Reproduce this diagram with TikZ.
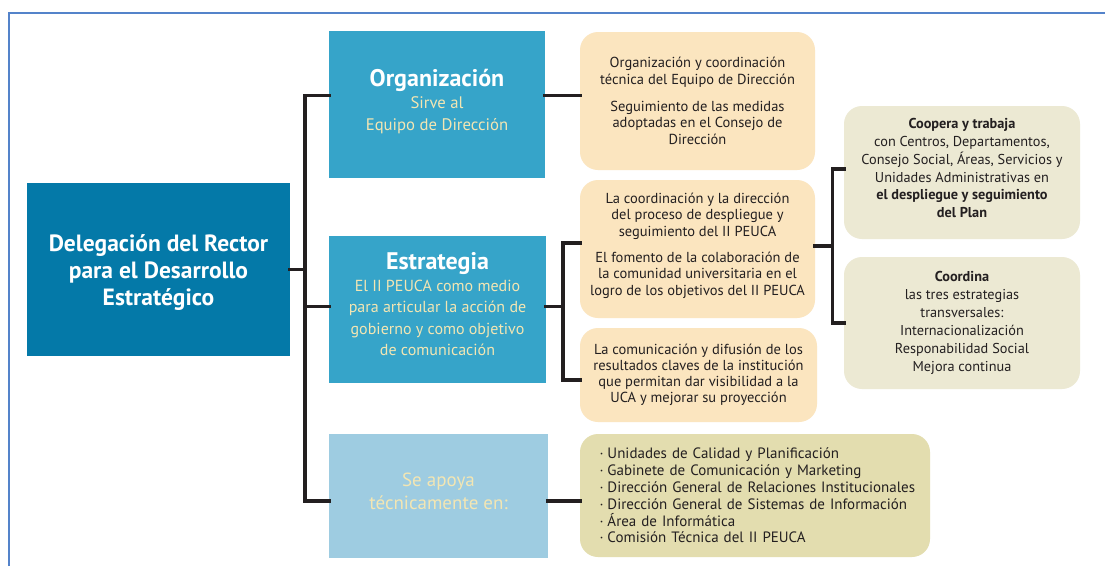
\documentclass[tikz,border=0pt]{standalone}
\usepackage{fontspec}
\setmainfont{PT Sans}
\usetikzlibrary{calc}
\definecolor{frameblue}{HTML}{5483CA}
\definecolor{deepblue}{HTML}{0479A8}
\definecolor{midblue}{HTML}{36A4C9}
\definecolor{paleblue}{HTML}{9ECCE1}
\definecolor{cream}{HTML}{F3E6B3}
\definecolor{peach}{HTML}{FBE5BF}
\definecolor{beige}{HTML}{ECE9D3}
\definecolor{khaki}{HTML}{E3DDAF}
\definecolor{ink}{HTML}{231F20}
\tikzset{
  box/.style={anchor=north west, inner sep=0pt, outer sep=0pt, align=center},
  sqbox/.style={box, rectangle},
  rbox/.style={box, rectangle, rounded corners=18pt, text=ink,
    font=\fontsize{14.5}{16.6}\selectfont},
  link/.style={draw=ink, line width=3.2pt, line join=miter, line cap=rect}
}
\newcommand{\bul}{\hspace*{18pt}\llap{·\hspace{4pt}}}
\begin{document}
\begin{tikzpicture}[x=1pt,y=-1pt]
\useasboundingbox (0,0) rectangle (1105,566);
\fill[white] (0,0) rectangle (1105,566);
\draw[frameblue, line width=1.6pt] (9,566) -- (9,13) -- (1105,13);

% main boxes
\node[sqbox, fill=deepblue, text=white, minimum width=263pt, minimum height=173pt,
  font=\fontsize{23.5}{27}\selectfont\bfseries] (del) at (27,183)
  {Delegación del Rector\\para el Desarrollo\\Estratégico\\[-29pt]};

\node[sqbox, fill=midblue, text=cream, minimum width=216pt, minimum height=147pt,
  font=\fontsize{16.7}{22}\selectfont] (org) at (329,31)
  {\textcolor{white}{\fontsize{24}{24}\selectfont\bfseries Organización}\\Sirve al\\Equipo de Dirección\\[-13pt]};

\node[sqbox, fill=midblue, text=cream, minimum width=217pt, minimum height=147pt,
  font=\fontsize{16}{21.5}\selectfont] (est) at (329,236)
  {\textcolor{white}{\fontsize{24}{24}\selectfont\bfseries Estrategia}\\El II PEUCA como medio\\para articular la acción de\\gobierno y como objetivo\\de comunicación\\[-11pt]};

\node[sqbox, fill=paleblue, text=cream, minimum width=219pt, minimum height=124pt,
  font=\fontsize{19}{23}\selectfont] (apo) at (329,434)
  {Se apoya\\técnicamente en:\\[-14pt]};

% right boxes
\node[rbox, fill=peach, minimum width=235pt, minimum height=138pt] (orgr) at (580,32)
  {Organización y coordinación\\técnica del Equipo de Dirección\\[10pt]Seguimiento de las medidas\\adoptadas en el Consejo de\\Dirección};

\node[rbox, fill=peach, minimum width=235pt, minimum height=138pt] (eone) at (580,180)
  {La coordinación y la dirección\\del proceso de despliegue y\\seguimiento del II PEUCA\\[9pt]El fomento de la colaboración de\\la comunidad universitaria en el\\logro de los objetivos del II PEUCA\\[-6.6pt]};

\node[rbox, fill=peach, minimum width=237pt, minimum height=94pt,
  font=\fontsize{14.5}{16.2}\selectfont] (etwo) at (580,328)
  {La comunicación y difusión de los\\resultados claves de la institución\\que permitan dar visibilidad a la\\UCA y mejorar su proyección};

\node[rbox, fill=khaki, minimum width=350pt, minimum height=123pt, align=left,
  text width=331pt, font=\fontsize{15}{16.8}\selectfont] (apr) at (580,434)
  {\bul Unidades de Calidad y Planificación\\
   \bul Gabinete de Comunicación y Marketing\\
   \bul Dirección General de Relaciones Institucionales\\
   \bul Dirección General de Sistemas de Información\\
   \bul Área de Informática\\
   \bul Comisión Técnica del II PEUCA};

\node[rbox, fill=beige, minimum width=236pt, minimum height=133pt,
  font=\fontsize{14.3}{17.8}\selectfont] (coop) at (844,106)
  {\textbf{Coopera y trabaja}\\con Centros, Departamentos,\\Consejo Social, Áreas, Servicios y\\Unidades Administrativas en\\\textbf{el despliegue y seguimiento}\\\textbf{del Plan}\\[-9pt]};

\node[rbox, fill=beige, minimum width=236pt, minimum height=132pt,
  font=\fontsize{14.3}{18}\selectfont] (coord) at (844,257)
  {\textbf{Coordina}\\las tres estrategias\\transversales:\\Internacionalización\\Responabilidad Social\\Mejora continua};

% junction columns
\coordinate (trunk) at (305,0);
\coordinate (ejoin) at (563,0);
\coordinate (cjoin) at (832.5,0);

% connectors
\draw[link] (del.east) -- (del.east -| trunk);
\draw[link] ([yshift=9pt]org.west) -- ([yshift=9pt]org.west -| trunk)
  -- ([yshift=-5pt]apo.west -| trunk) -- ([yshift=-5pt]apo.west);
\draw[link] ([yshift=3pt]est.west -| trunk) -- ([yshift=3pt]est.west);
\draw[link] ([yshift=9pt]org.east) -- ([yshift=9pt]org.east -| orgr.west);
\draw[link] ([yshift=3pt]est.east) -- ([yshift=3pt]est.east -| ejoin);
\draw[link] ([yshift=6pt]eone.west) -- ([yshift=6pt]eone.west -| ejoin)
  -- ([yshift=-5pt]etwo.west -| ejoin) -- ([yshift=-5pt]etwo.west);
\draw[link] ([yshift=3pt]eone.east) -- ([yshift=3pt]eone.east -| cjoin);
\draw[link] ([yshift=3.5pt]coop.west) -- ([yshift=3.5pt]coop.west -| cjoin)
  -- (coord.west -| cjoin) -- (coord.west);
\draw[link] ([yshift=-5pt]apo.east) -- ([yshift=-5pt]apo.east -| apr.west);
\end{tikzpicture}
\end{document}
